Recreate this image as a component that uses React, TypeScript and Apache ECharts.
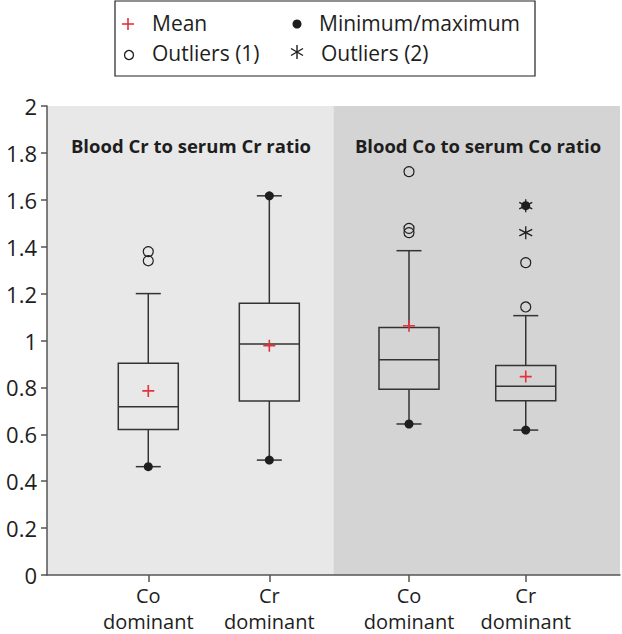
import React, { useEffect, useRef } from 'react';
import * as echarts from 'echarts';

// Box positions on the (hidden-scale) x axis and their labels
const boxX = [0.707, 1.552, 2.527, 3.342];
const categoryLabels = ['Co\ndominant', 'Cr\ndominant', 'Co\ndominant', 'Cr\ndominant'];
const panelTitles = ['Blood Cr to serum Cr ratio', 'Blood Co to serum Co ratio'];

// Box statistics
const whiskerLow = [0.462, 0.49, 0.644, 0.618];
const q1 = [0.62, 0.742, 0.792, 0.743];
const median = [0.718, 0.985, 0.918, 0.805];
const q3 = [0.903, 1.159, 1.055, 0.893];
const whiskerHigh = [1.2, 1.617, 1.383, 1.106];
const means = [0.785, 0.978, 1.063, 0.846];

// [box index, value]
const minMaxPoints = [[0, 0.462], [1, 0.49], [1, 1.617], [2, 0.644], [3, 0.618], [3, 1.575]];
const outliers1 = [[0, 1.379], [0, 1.34], [2, 1.72], [2, 1.478], [2, 1.46], [3, 1.332], [3, 1.143]];
const outliers2 = [[3, 1.575], [3, 1.46]];

const yTicks = [0, 2, 0.2]; // min, max, interval

const FONT = "'Open Sans', 'Noto Sans', sans-serif";
const RED = '#e2333c';
const INK = '#1e1e1e';
const LINE = '#333333';
const CROSS = 'path://M5 0L5 10M0 5L10 5';
const STAR = 'path://M5 0L5 10M0.67 2.5L9.33 7.5M0.67 7.5L9.33 2.5';

export default function App() {
  const ref = useRef<HTMLDivElement>(null);
  useEffect(() => {
    if (!ref.current) return;
    const chart = echarts.init(ref.current, null, { renderer: 'svg' });
    const toPts = (arr: number[][]) => arr.map(([i, v]) => [boxX[i], v]);
    const option: any = {
      animation: false,
      grid: { left: 47, right: 2, top: 106, bottom: 59, containLabel: false, outerBoundsMode: 'none' },
      xAxis: {
        type: 'value',
        min: 0,
        max: 4,
        z: 5,
        splitLine: { show: false },
        axisLine: { show: true, lineStyle: { color: '#555', width: 1.5 } },
        axisTick: { show: true, customValues: boxX, length: 7, lineStyle: { color: '#555', width: 1.5 } },
        axisLabel: {
          customValues: boxX,
          formatter: (v: number) => {
            let best = 0;
            boxX.forEach((x, i) => { if (Math.abs(x - v) < Math.abs(boxX[best] - v)) best = i; });
            return categoryLabels[best];
          },
          fontSize: 20,
          lineHeight: 26,
          fontFamily: FONT,
          color: INK,
          margin: 7,
        },
      },
      yAxis: {
        type: 'value',
        min: yTicks[0],
        max: yTicks[1],
        interval: yTicks[2],
        z: 5,
        splitLine: { show: false },
        axisLine: { show: true, lineStyle: { color: '#555', width: 1.5 } },
        axisTick: { show: true, length: 6, lineStyle: { color: '#555', width: 1.5 } },
        axisLabel: { fontSize: 22, fontFamily: FONT, color: INK, margin: 10 },
      },
      graphic: [
        { type: 'rect', z: 100, shape: { x: 115, y: 1, width: 420, height: 75 }, style: { fill: '#fff', stroke: '#222', lineWidth: 1.2 } },
        { type: 'line', z: 101, shape: { x1: 122, y1: 24, x2: 134, y2: 24 }, style: { stroke: RED, lineWidth: 1.6 } },
        { type: 'line', z: 101, shape: { x1: 128, y1: 18, x2: 128, y2: 30 }, style: { stroke: RED, lineWidth: 1.6 } },
        { type: 'circle', z: 101, shape: { cx: 297, cy: 24, r: 4.5 }, style: { fill: INK } },
        { type: 'circle', z: 101, shape: { cx: 129, cy: 55, r: 4.5 }, style: { fill: 'none', stroke: INK, lineWidth: 1.3 } },
        { type: 'line', z: 101, shape: { x1: 297, y1: 45, x2: 297, y2: 59 }, style: { stroke: INK, lineWidth: 1.4 } },
        { type: 'line', z: 101, shape: { x1: 291, y1: 48.5, x2: 303, y2: 55.5 }, style: { stroke: INK, lineWidth: 1.4 } },
        { type: 'line', z: 101, shape: { x1: 291, y1: 55.5, x2: 303, y2: 48.5 }, style: { stroke: INK, lineWidth: 1.4 } },
        { type: 'text', z: 101, x: 152, y: 23, style: { text: 'Mean', font: `21px ${FONT}`, fill: INK, verticalAlign: 'middle' } },
        { type: 'text', z: 101, x: 319, y: 23, style: { text: 'Minimum/maximum', font: `21px ${FONT}`, fill: INK, verticalAlign: 'middle' } },
        { type: 'text', z: 101, x: 152, y: 53, style: { text: 'Outliers (1)', font: `21px ${FONT}`, fill: INK, verticalAlign: 'middle' } },
        { type: 'text', z: 101, x: 321, y: 53, style: { text: 'Outliers (2)', font: `21px ${FONT}`, fill: INK, verticalAlign: 'middle' } },
        { type: 'text', z: 101, x: 191, y: 145, style: { text: panelTitles[0], font: `bold 18.5px ${FONT}`, fill: INK, align: 'center', verticalAlign: 'middle' } },
        { type: 'text', z: 101, x: 478, y: 145, style: { text: panelTitles[1], font: `bold 18.5px ${FONT}`, fill: INK, align: 'center', verticalAlign: 'middle' } },
      ],
      series: [
        {
          type: 'custom',
          name: 'Box',
          z: 2,
          silent: true,
          encode: { x: 0, y: [1, 2, 3, 4, 5] },
          data: boxX.map((x, i) => [x, whiskerLow[i], q1[i], median[i], q3[i], whiskerHigh[i]]),
          markArea: {
            silent: true,
            z: 1,
            data: [
              [{ xAxis: 0, itemStyle: { color: '#e8e8e8', opacity: 1 } }, { xAxis: 2 }],
              [{ xAxis: 2, itemStyle: { color: '#d4d4d4', opacity: 1 } }, { xAxis: 4 }],
            ],
          },
          renderItem: (params: any, api: any) => {
            const x = api.value(0);
            const lo = api.coord([x, api.value(1)]);
            const a = api.coord([x, api.value(2)]);
            const m = api.coord([x, api.value(3)]);
            const b = api.coord([x, api.value(4)]);
            const hi = api.coord([x, api.value(5)]);
            const cx = lo[0];
            const hw = 30;
            const cw = 12.5;
            const st = { stroke: LINE, lineWidth: 1.5, fill: 'none' };
            return {
              type: 'group',
              children: [
                { type: 'line', shape: { x1: cx, y1: b[1], x2: cx, y2: hi[1] }, style: st },
                { type: 'line', shape: { x1: cx, y1: a[1], x2: cx, y2: lo[1] }, style: st },
                { type: 'line', shape: { x1: cx - cw, y1: hi[1], x2: cx + cw, y2: hi[1] }, style: st },
                { type: 'line', shape: { x1: cx - cw, y1: lo[1], x2: cx + cw, y2: lo[1] }, style: st },
                { type: 'rect', shape: { x: cx - hw, y: b[1], width: hw * 2, height: a[1] - b[1] }, style: st },
                { type: 'line', shape: { x1: cx - hw, y1: m[1], x2: cx + hw, y2: m[1] }, style: st },
              ],
            };
          },
        },
        {
          type: 'scatter',
          name: 'Outliers (2)',
          z: 3,
          silent: true,
          symbol: STAR,
          symbolSize: 13,
          itemStyle: { color: 'rgba(0,0,0,0)', borderColor: INK, borderWidth: 1.3, opacity: 1 },
          data: toPts(outliers2),
        },
        {
          type: 'scatter',
          name: 'Minimum/maximum',
          z: 4,
          silent: true,
          symbol: 'circle',
          symbolSize: 9,
          itemStyle: { color: INK, opacity: 1 },
          data: toPts(minMaxPoints),
        },
        {
          type: 'scatter',
          name: 'Outliers (1)',
          z: 3,
          silent: true,
          symbol: 'circle',
          symbolSize: 10,
          itemStyle: { color: 'rgba(0,0,0,0)', borderColor: INK, borderWidth: 1.2, opacity: 1 },
          data: toPts(outliers1),
        },
        {
          type: 'scatter',
          name: 'Mean',
          z: 5,
          silent: true,
          symbol: CROSS,
          symbolSize: 12,
          itemStyle: { color: 'rgba(0,0,0,0)', borderColor: RED, borderWidth: 1.6, opacity: 1 },
          data: boxX.map((x, i) => [x, means[i]]),
        },
      ],
    };
    chart.setOption(option);
    return () => chart.dispose();
  }, []);
  return (
    <div
      ref={ref}
      style={{ position: 'absolute', left: 0, top: 0, width: 622, height: 634, background: '#fff' }}
    />
  );
}
